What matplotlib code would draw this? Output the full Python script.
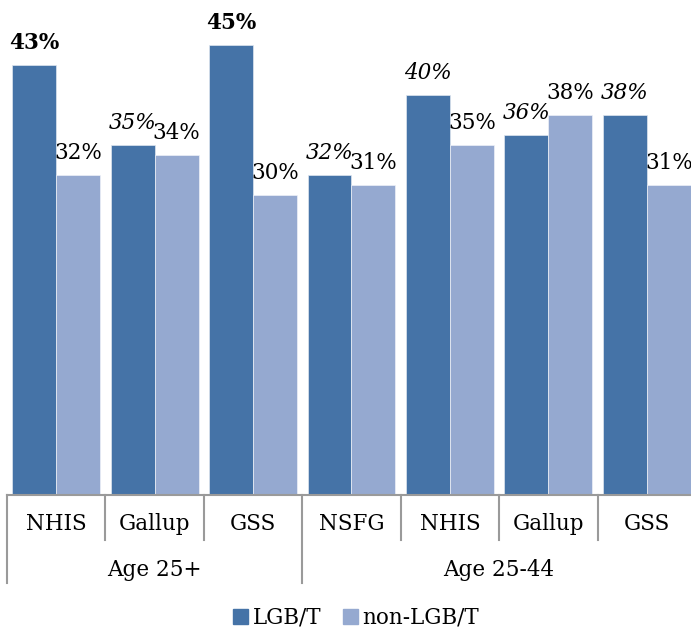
import matplotlib as mpl
import matplotlib.pyplot as plt
import matplotlib.transforms as mtrans
from matplotlib.patches import Patch

mpl.rcParams['font.family'] = ['DejaVu Serif']
mpl.rcParams['font.size'] = 15.5

# data
surveys = ['NHIS', 'Gallup', 'GSS', 'NSFG', 'NHIS', 'Gallup', 'GSS']
age_groups = ['Age 25+', 'Age 25-44']
age_spans = [(0, 2), (3, 6)]
lgbt = [43, 35, 45, 32, 40, 36, 38]
non_lgbt = [32, 34, 30, 31, 35, 38, 31]
# label style of the LGB/T value labels
lgbt_style = ['bold', 'italic', 'bold', 'italic', 'italic', 'italic', 'italic']

c_dark = '#4573A7'
c_light = '#95A9D0'
grey = '#9a9a9a'

fig = plt.figure(figsize=(6.91, 6.32), dpi=100)
ax = fig.add_axes([7 / 691, 137 / 632, 689 / 691, 495 / 632])

w = 0.447
x = list(range(len(surveys)))
b1 = ax.bar([i - w / 2 for i in x], lgbt, w, color=c_dark, edgecolor='#dfe6f0', linewidth=0.5)
b2 = ax.bar([i + w / 2 for i in x], non_lgbt, w, color=c_light, edgecolor='#eef1f8', linewidth=0.5)

for rect, v, st in zip(b1, lgbt, lgbt_style):
    kw = {'fontweight': 'bold'} if st == 'bold' else {'fontstyle': 'italic'}
    ax.annotate('%d%%' % v, (rect.get_x() + rect.get_width() / 2, v),
                xytext=(0, 8), textcoords='offset points',
                ha='center', va='bottom', **kw)
for rect, v in zip(b2, non_lgbt):
    ax.annotate('%d%%' % v, (rect.get_x() + rect.get_width() / 2, v),
                xytext=(0, 8), textcoords='offset points',
                ha='center', va='bottom')

ax.set_xlim(-0.5, len(surveys) - 0.5)
ax.set_ylim(0, 49.5)
ax.set_xticks([])
ax.set_yticks([])
for s in ['top', 'left', 'right']:
    ax.spines[s].set_visible(False)
ax.spines['bottom'].set_color(grey)
ax.spines['bottom'].set_linewidth(1.5)

# two-level category axis
tr = mtrans.blended_transform_factory(ax.transData, ax.transAxes)
outer = [age_spans[0][0] - 0.5] + [e + 0.5 for _, e in age_spans]
for i in range(len(surveys) + 1):
    xs = i - 0.5
    low = -0.178 if xs in outer else -0.091
    ax.plot([xs, xs], [0, low], color=grey, lw=1.5, transform=tr, clip_on=False)
for i, name in enumerate(surveys):
    ax.text(i, -0.058, name, transform=tr, ha='center', va='center')
for name, (a, b) in zip(age_groups, age_spans):
    ax.text((a + b) / 2, -0.151, name, transform=tr, ha='center', va='center')

handles = [Patch(color=c_dark, label='LGB/T'), Patch(color=c_light, label='non-LGB/T')]
fig.legend(handles=handles, loc='center', bbox_to_anchor=(356 / 691, 1 - 618 / 632),
           ncol=2, frameon=False, handlelength=0.7, handleheight=0.7,
           handletextpad=0.2, columnspacing=1.0, fontsize=15.5)

fig.savefig('out.png', dpi=100)
